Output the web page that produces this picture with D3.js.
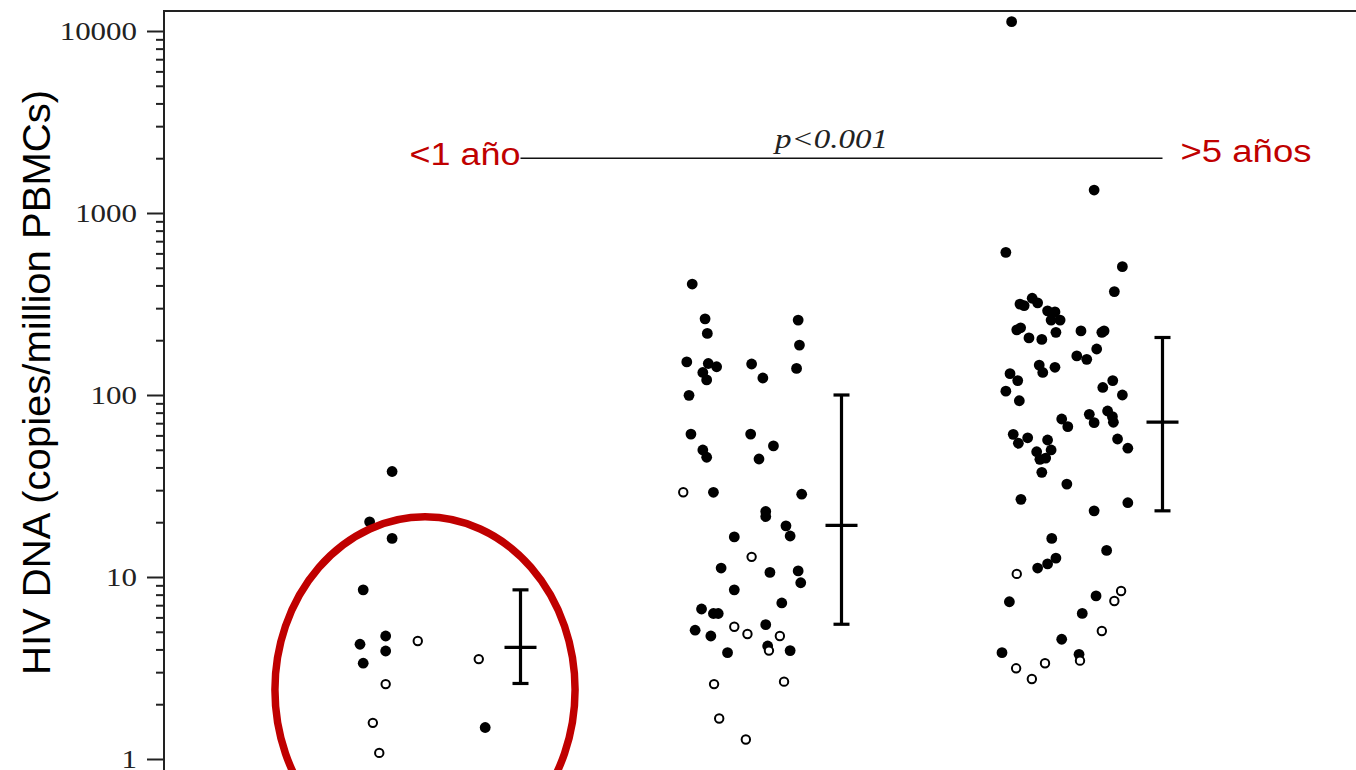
<!DOCTYPE html>
<html>
<head>
<meta charset="utf-8">
<script src="https://cdn.jsdelivr.net/npm/d3@7"></script>
<style>
  body { margin: 0; background: #fff; }
  svg { display: block; }
</style>
</head>
<body>
<script>
// Values: [jitter within group, copies/million PBMCs, open marker]
const groupNames = ["<1 año", "1-5 años", ">5 años"];

const group1 = [
  [0.10, 38, 0], [0.03, 20.1, 0], [0.10, 16.3, 0], [0.01, 8.5, 0],
  [0.08, 4.74, 0], [0.00, 4.27, 0], [0.08, 3.92, 0], [0.01, 3.36, 0],
  [0.18, 4.45, 1], [0.08, 2.58, 1], [0.04, 1.58, 1], [0.06, 1.08, 1],
  [0.37, 3.54, 1], [0.39, 1.49, 0]
];

const group2 = [
  [0.035, 407, 0], [0.075, 262, 0], [0.082, 218, 0], [0.018, 152, 0],
  [0.085, 149, 0], [0.111, 143, 0], [0.068, 133, 0], [0.080, 121, 0],
  [0.025, 99.6, 0], [0.031, 61, 0], [0.068, 49.9, 0], [0.080, 45.5, 0],
  [0.220, 148, 0], [0.255, 124, 0], [0.217, 61, 0], [0.288, 52.5, 0],
  [0.243, 44.5, 0], [0.365, 258, 0], [0.369, 188, 0], [0.360, 140, 0],
  [0.007, 29.2, 1], [0.101, 29.2, 0], [0.376, 28.5, 0], [0.264, 22.9, 0],
  [0.264, 21.5, 0], [0.327, 19.1, 0], [0.340, 16.8, 0], [0.166, 16.6, 0],
  [0.220, 12.9, 1], [0.125, 11.2, 0], [0.277, 10.6, 0], [0.365, 10.8, 0],
  [0.373, 9.3, 0], [0.166, 8.5, 0], [0.314, 7.2, 0], [0.064, 6.67, 0],
  [0.101, 6.3, 0], [0.116, 6.3, 0], [0.044, 5.1, 0], [0.093, 4.74, 0],
  [0.166, 5.33, 1], [0.207, 4.86, 1], [0.264, 5.47, 0], [0.308, 4.74, 1],
  [0.270, 4.18, 0], [0.274, 3.94, 1], [0.340, 3.94, 0], [0.145, 3.84, 0],
  [0.103, 2.58, 1], [0.321, 2.66, 1], [0.119, 1.67, 1], [0.202, 1.28, 1]
];

const group3 = [
  [0.030, 11250, 0], [0.287, 1337, 0], [0.012, 608, 0], [0.375, 507, 0],
  [0.350, 370, 0], [0.094, 340, 0], [0.056, 316, 0], [0.069, 310, 0],
  [0.111, 321, 0], [0.142, 290, 0], [0.165, 286, 0], [0.153, 258, 0],
  [0.181, 258, 0], [0.046, 228, 0], [0.058, 234, 0], [0.084, 206, 0],
  [0.124, 202, 0], [0.168, 221, 0], [0.246, 225, 0], [0.311, 221, 0],
  [0.318, 225, 0], [0.295, 179, 0], [0.233, 164, 0], [0.264, 157, 0],
  [0.116, 146, 0], [0.127, 133, 0], [0.165, 142, 0], [0.025, 131, 0],
  [0.049, 120, 0], [0.012, 105, 0], [0.054, 93, 0], [0.345, 120, 0],
  [0.314, 110, 0], [0.375, 100, 0], [0.186, 73.8, 0], [0.205, 67, 0],
  [0.272, 78.3, 0], [0.287, 70.5, 0], [0.329, 81.7, 0], [0.344, 76, 0],
  [0.347, 70.8, 0], [0.035, 60.8, 0], [0.080, 58.2, 0], [0.051, 54.3, 0],
  [0.142, 56.6, 0], [0.153, 49.9, 0], [0.108, 48.8, 0], [0.118, 44.3, 0],
  [0.136, 45.0, 0], [0.124, 37.6, 0], [0.202, 32.4, 0], [0.360, 57.3, 0],
  [0.392, 51, 0], [0.059, 26.7, 0], [0.287, 23.1, 0], [0.392, 25.6, 0],
  [0.155, 16.3, 0], [0.326, 14.0, 0], [0.168, 12.7, 0], [0.142, 11.8, 0],
  [0.111, 11.2, 0], [0.046, 10.4, 1], [0.371, 8.38, 1], [0.350, 7.38, 1],
  [0.293, 7.87, 0], [0.023, 7.31, 0], [0.250, 6.31, 0], [0.311, 5.05, 1],
  [0.186, 4.55, 0], [0.000, 3.84, 0], [0.240, 3.76, 0], [0.243, 3.47, 1],
  [0.134, 3.36, 1], [0.044, 3.15, 1], [0.093, 2.75, 1]
];

// mean and error bar ends per group
const means = [4.1, 19.2, 71];
const lower = [2.6, 5.5, 23.1];
const upper = [8.5, 100, 207];

const majorTicks = [1, 10, 100, 1000, 10000];
const pText = "p<0.001";
const pLineValue = 2000;
const yTitle = "HIV DNA (copies/million PBMCs)";

// ---- chart ----
const W = 1356, H = 770;
const red = "#c00000";
const stretch = 1.19; // the figure is a bit wider than tall

const svg = d3.select("body").append("svg")
    .attr("width", W)
    .attr("height", H);

const x = d3.scaleLinear().domain([0, 3]).range([360, 360 + 3 * 321]);
const y = d3.scaleLog().domain([1, 10000]).range([759, 31]);

// frame (runs off the right and bottom of the picture)
svg.append("rect")
    .attr("x", 164).attr("y", 11)
    .attr("width", 1400).attr("height", 900)
    .attr("fill", "none")
    .attr("stroke", "#222")
    .attr("stroke-width", 2);

// minor ticks
const minorTicks = [];
[1, 10, 100, 1000].forEach(d => {
  for (let k = 2; k <= 9; k++) minorTicks.push(d * k);
});

const gMinor = svg.append("g")
    .attr("transform", "translate(164,0)")
    .call(d3.axisLeft(y).tickValues(minorTicks).tickSize(8).tickFormat(""));

const gMajor = svg.append("g")
    .attr("transform", "translate(164,0)")
    .call(d3.axisLeft(y).tickValues(majorTicks).tickSize(17).tickPadding(10)
      .tickFormat(d3.format("d")));

[gMinor, gMajor].forEach(g => {
  g.select(".domain").remove();
  g.selectAll(".tick line").attr("stroke", "#222").attr("stroke-width", 2);
});

gMajor.selectAll(".tick text")
    .style("font-family", "'Liberation Serif', 'Times New Roman', serif")
    .style("font-size", "26px")
    .attr("fill", "#222")
    .each(function () {
      const w = this.getComputedTextLength();
      d3.select(this).attr("textLength", w * stretch).attr("lengthAdjust", "spacingAndGlyphs");
    });

// y title
svg.append("text")
    .attr("transform", "translate(50," + (90 + 585 / 2) + ") rotate(-90)")
    .attr("text-anchor", "middle")
    .style("font-family", "'Liberation Sans', Arial, sans-serif")
    .style("font-size", "39px")
    .attr("textLength", 585)
    .attr("lengthAdjust", "spacingAndGlyphs")
    .text(yTitle);

// points
const groups = [group1, group2, group3];
const pts = [];
groups.forEach((arr, g) => arr.forEach(d => pts.push({ g: g, j: d[0], v: d[1], open: d[2] })));

svg.append("g").selectAll("circle")
    .data(pts.filter(d => !d.open))
    .join("circle")
    .attr("cx", d => x(d.g + d.j))
    .attr("cy", d => y(d.v))
    .attr("r", 5.4)
    .attr("fill", "#000");

svg.append("g").selectAll("circle")
    .data(pts.filter(d => d.open))
    .join("circle")
    .attr("cx", d => x(d.g + d.j))
    .attr("cy", d => y(d.v))
    .attr("r", 4.2)
    .attr("fill", "#fff")
    .attr("stroke", "#000")
    .attr("stroke-width", 2);

// mean +/- error bars
const bars = svg.append("g")
    .attr("stroke", "#000")
    .attr("stroke-width", 3.2);

means.forEach((m, g) => {
  const cx = x(g + 0.5);
  bars.append("line")
      .attr("x1", cx).attr("x2", cx)
      .attr("y1", y(lower[g])).attr("y2", y(upper[g]));
  bars.append("line")
      .attr("x1", cx - 8).attr("x2", cx + 8)
      .attr("y1", y(upper[g])).attr("y2", y(upper[g]));
  bars.append("line")
      .attr("x1", cx - 8).attr("x2", cx + 8)
      .attr("y1", y(lower[g])).attr("y2", y(lower[g]));
  bars.append("line")
      .attr("x1", cx - 16).attr("x2", cx + 16)
      .attr("y1", y(m)).attr("y2", y(m));
});

// comparison line <1 año vs >5 años
const xa = x(0.5), xb = x(2.5), yl = y(pLineValue);
svg.append("line")
    .attr("x1", xa).attr("x2", xb)
    .attr("y1", yl).attr("y2", yl)
    .attr("stroke", "#111")
    .attr("stroke-width", 1.6);

svg.append("text")
    .attr("x", (xa + xb) / 2 - 10)
    .attr("y", yl - 10)
    .attr("text-anchor", "middle")
    .style("font-family", "'Liberation Serif', 'Times New Roman', serif")
    .style("font-style", "italic")
    .style("font-size", "27px")
    .attr("fill", "#222")
    .attr("textLength", 113)
    .attr("lengthAdjust", "spacingAndGlyphs")
    .text(pText);

svg.append("text")
    .attr("x", xa)
    .attr("y", yl + 7)
    .attr("text-anchor", "end")
    .style("font-family", "'Liberation Sans', Arial, sans-serif")
    .style("font-size", "31px")
    .attr("fill", red)
    .attr("textLength", 111)
    .attr("lengthAdjust", "spacingAndGlyphs")
    .text(groupNames[0]);

svg.append("text")
    .attr("x", xb + 18)
    .attr("y", yl + 4)
    .attr("text-anchor", "start")
    .style("font-family", "'Liberation Sans', Arial, sans-serif")
    .style("font-size", "31px")
    .attr("fill", red)
    .attr("textLength", 131)
    .attr("lengthAdjust", "spacingAndGlyphs")
    .text(groupNames[2]);

// red ring around the <1 año group
const ex0 = x(-0.265), ex1 = x(0.67);
svg.append("ellipse")
    .attr("cx", (ex0 + ex1) / 2)
    .attr("cy", y(2.4))
    .attr("rx", (ex1 - ex0) / 2)
    .attr("ry", y(2.4) - y(21.4))
    .attr("fill", "none")
    .attr("stroke", red)
    .attr("stroke-width", 7.5);
</script>
</body>
</html>
